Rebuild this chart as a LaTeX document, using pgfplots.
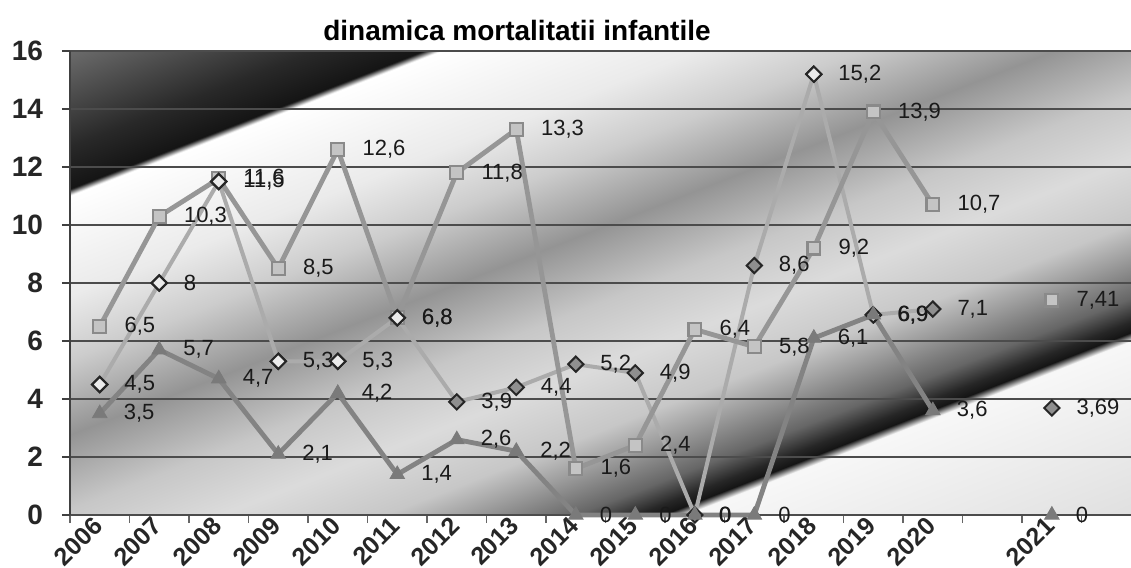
\documentclass[border=0pt]{standalone}
\usepackage{pgfplots}
\pgfplotsset{compat=1.18}
\usepackage{pgfplotstable}
\usepackage{fontspec}
\setmainfont{Liberation Sans}
\newfontfamily\tickfont{Liberation Sans}
\newfontfamily\titlefont{Liberation Sans}

\definecolor{lineD}{HTML}{ABABAB}
\definecolor{lineS}{HTML}{969696}
\definecolor{lineT}{HTML}{838383}
\definecolor{markS}{HTML}{C4C4C4}
\definecolor{edgeS}{HTML}{8A8A8A}
\definecolor{markDf}{HTML}{8F8F8F}
\definecolor{markT}{HTML}{7A7A7A}
\definecolor{labgray}{HTML}{1A1A1A}

\pgfdeclareverticalshading{bgbands}{100bp}{%
rgb(0bp)=(0.88,0.88,0.88);
rgb(31.78bp)=(0.88,0.88,0.88);
rgb(38.92bp)=(0.97,0.97,0.97);
rgb(39.28bp)=(0.08,0.08,0.08);
rgb(39.73bp)=(0.15,0.15,0.15);
rgb(40.71bp)=(0.40,0.40,0.40);
rgb(42.49bp)=(0.62,0.62,0.62);
rgb(43.83bp)=(0.78,0.78,0.78);
rgb(46.51bp)=(0.86,0.86,0.86);
rgb(49.19bp)=(0.78,0.78,0.78);
rgb(52.31bp)=(0.58,0.58,0.58);
rgb(55.44bp)=(0.80,0.80,0.80);
rgb(58.12bp)=(0.92,0.92,0.92);
rgb(62.31bp)=(1,1,1);
rgb(62.58bp)=(0.08,0.08,0.08);
rgb(64.37bp)=(0.16,0.16,0.16);
rgb(68.34bp)=(0.42,0.42,0.42);
rgb(100bp)=(0.42,0.42,0.42)}

\pgfplotstableread{
x D S T
0 4.5 6.5 3.5
1 8 10.3 5.7
2 11.5 11.6 4.7
3 5.3 8.5 2.1
4 5.3 12.6 4.2
5 6.8 6.8 1.4
6 3.9 11.8 2.6
7 4.4 13.3 2.2
8 5.2 1.6 0
9 4.9 2.4 0
10 0 6.4 0
11 8.6 5.8 0
12 15.2 9.2 6.1
13 6.9 13.9 6.9
14 7.1 10.7 3.6
15 nan nan nan
16 3.69 7.41 0
}\data

% diamonds drawn open (light fill)
\pgfplotstableread{
x y
0 4.5
1 8
2 11.5
3 5.3
4 5.3
5 6.8
12 15.2
13 6.9
}\dopen

\begin{document}
\begin{tikzpicture}
\useasboundingbox (-35pt,-26.5pt) rectangle (530.5pt,257.5pt);
\begin{scope}
\clip (0pt,0pt) rectangle (530.5pt,232pt);
\shade[shading=bgbands, shading angle=21.3] (-14.75pt,-164pt) rectangle (545.25pt,396pt);
\end{scope}
\begin{axis}[
  at={(0pt,0pt)}, anchor=south west,
  scale only axis, width=530.5pt, height=232pt,
  xmin=-0.5, xmax=17.33, ymin=0, ymax=16,
  axis x line*=bottom, axis y line*=left,
  x axis line style={draw=black!70, line width=1.4pt},
  y axis line style={draw=black!75, line width=0.8pt},
  ytick={0,2,...,16},
  ymajorgrids, major grid style={draw=black!70, line width=0.55pt},
  tick align=outside, major tick length=4pt,
  ytick style={draw=black!75, line width=0.8pt},
  xtick={-0.5,0.5,...,16.5}, xticklabels={},
  xtick style={draw=black!60, line width=0.7pt},
  extra x ticks={0,1,...,14,16},
  extra x tick labels={2006,2007,2008,2009,2010,2011,2012,2013,2014,2015,2016,2017,2018,2019,2020,2021},
  extra x tick style={major tick length=0pt},
  xticklabel style={xshift=1.5pt, yshift=-0.8pt, rotate=45, anchor=east, font=\tickfont\bfseries\fontsize{12.5}{12.5}\selectfont, text=black!85},
  yticklabel style={font=\tickfont\bfseries\fontsize{14}{14}\selectfont, xshift=-6pt, text=black!85},
  /pgf/number format/use comma,
  /pgf/number format/assume math mode=true,
  clip=false,
  title={dinamica mortalitatii infantile},
  title style={font=\titlefont\bfseries\fontsize{14}{14}\selectfont, at={(rel axis cs:0.4213,1)}, anchor=base, yshift=-1pt},
  every node near coord/.append style={anchor=west, xshift=8.5pt, font=\fontsize{11}{12}\selectfont, text=labgray},
]
\addplot[lineD, line width=2pt, line join=round, unbounded coords=jump] table[x=x,y=D]{\data};
\addplot[lineS, line width=2.4pt, line join=round, unbounded coords=jump] table[x=x,y=S]{\data};
\addplot[lineT, line width=2.4pt, line join=round, unbounded coords=jump] table[x=x,y=T]{\data};
\addplot[only marks, mark=square*, mark size=3.2pt, mark options={fill=markS, draw=edgeS, line width=1.1pt}, nodes near coords] table[x=x,y=S]{\data};
\addplot[only marks, mark=square*, mark size=2.7pt, mark options={rotate=45, fill=markDf, draw=black!85, line width=1pt}, nodes near coords] table[x=x,y=D]{\data};
\addplot[only marks, mark=square*, mark size=2.7pt, mark options={rotate=45, fill=white!92!black, draw=black!85, line width=1pt}] table[x=x,y=y]{\dopen};
\addplot[only marks, mark=triangle*, mark size=4.2pt, mark options={fill=markT, draw=markT}, nodes near coords] table[x=x,y=T]{\data};
\end{axis}
\end{tikzpicture}
\end{document}
